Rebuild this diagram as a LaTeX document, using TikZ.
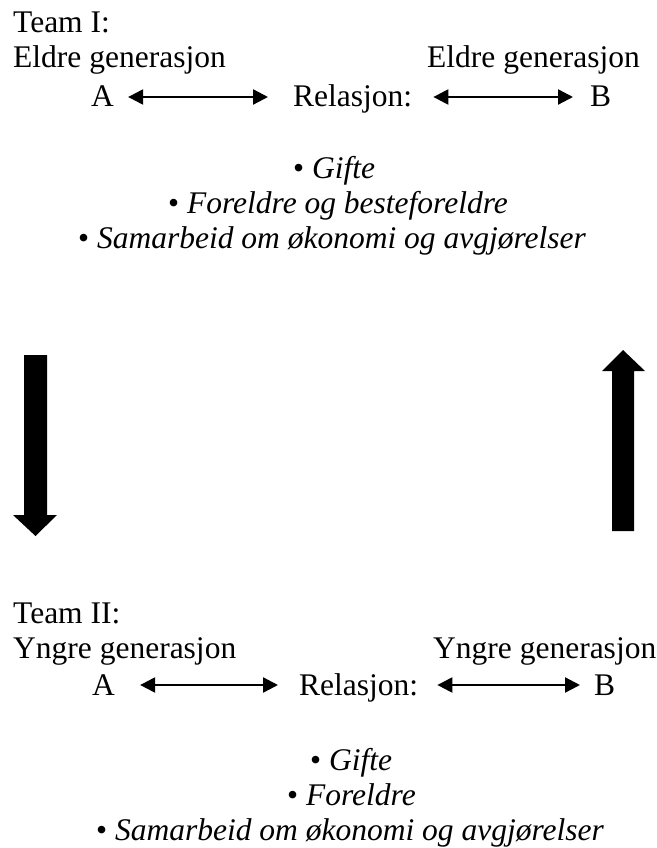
\documentclass[tikz,border=0pt]{standalone}
\usepackage{fontspec}
\setmainfont{Liberation Serif}
\usetikzlibrary{arrows.meta}
\begin{document}
\begin{tikzpicture}[x=1pt,y=-1pt,
  txt/.style={anchor=base west,inner sep=0pt,font=\fontsize{31.5}{36}\selectfont},
  item/.style={txt},
  link/.style={{Triangle[length=15pt,width=15pt]}-{Triangle[length=15pt,width=15pt]},line width=2.3pt},
  block/.style={fill=black,draw=none}]
\useasboundingbox (0,0) rectangle (656,848);

% ---------- Team I ----------
\node[txt] (t1) at (13,33) {Team I:};
\node[txt] (e1l) at (13,68) {Eldre generasjon};
\node[txt] (e1r) at (427,68) {Eldre generasjon};
\node[txt] (A1) at (91,107) {A};
\node[txt] (R1) at (293,107) {Relasjon:};
\node[txt] (B1) at (590,107) {B};
\draw[link,shorten <=14pt,shorten >=25pt] ([yshift=10pt]A1.base east) -- ([yshift=10pt]R1.base west);
\draw[link,shorten <=21pt,shorten >=17pt] ([yshift=10pt]R1.base east) -- ([yshift=10pt]B1.base west);

\node[item] (g1) at (293,178) {• \textit{Gifte}};
\node[item] (f1) at (168,213) {• \textit{Foreldre og besteforeldre}};
\node[item] (s1) at (78,248) {• \textit{Samarbeid om økonomi og avgjørelser}};

% ---------- block arrows between the teams ----------
\fill[block] (24,355) -- (47,355) -- (47,515) -- (57,515) -- (35.5,536)
  -- (13,515) -- (24,515) -- cycle;
\fill[block] (612,531) -- (634,531) -- (634,371) -- (645,371) -- (623,350)
  -- (602,371) -- (612,371) -- cycle;

% ---------- Team II ----------
\node[txt] (t2) at (13,623) {Team II:};
\node[txt] (y2l) at (13,658) {Yngre generasjon};
\node[txt] (y2r) at (433,658) {Yngre generasjon};
\node[txt] (A2) at (92,695) {A};
\node[txt] (R2) at (299,695) {Relasjon:};
\node[txt] (B2) at (594,695) {B};
\draw[link,shorten <=25pt,shorten >=21pt] ([yshift=10pt]A2.base east) -- ([yshift=10pt]R2.base west);
\draw[link,shorten <=19pt,shorten >=14pt] ([yshift=10pt]R2.base east) -- ([yshift=10pt]B2.base west);

\node[item] (g2) at (310,770) {• \textit{Gifte}};
\node[item] (f2) at (287,805) {• \textit{Foreldre}};
\node[item] (s2) at (96,840) {• \textit{Samarbeid om økonomi og avgjørelser}};
\end{tikzpicture}
\end{document}
